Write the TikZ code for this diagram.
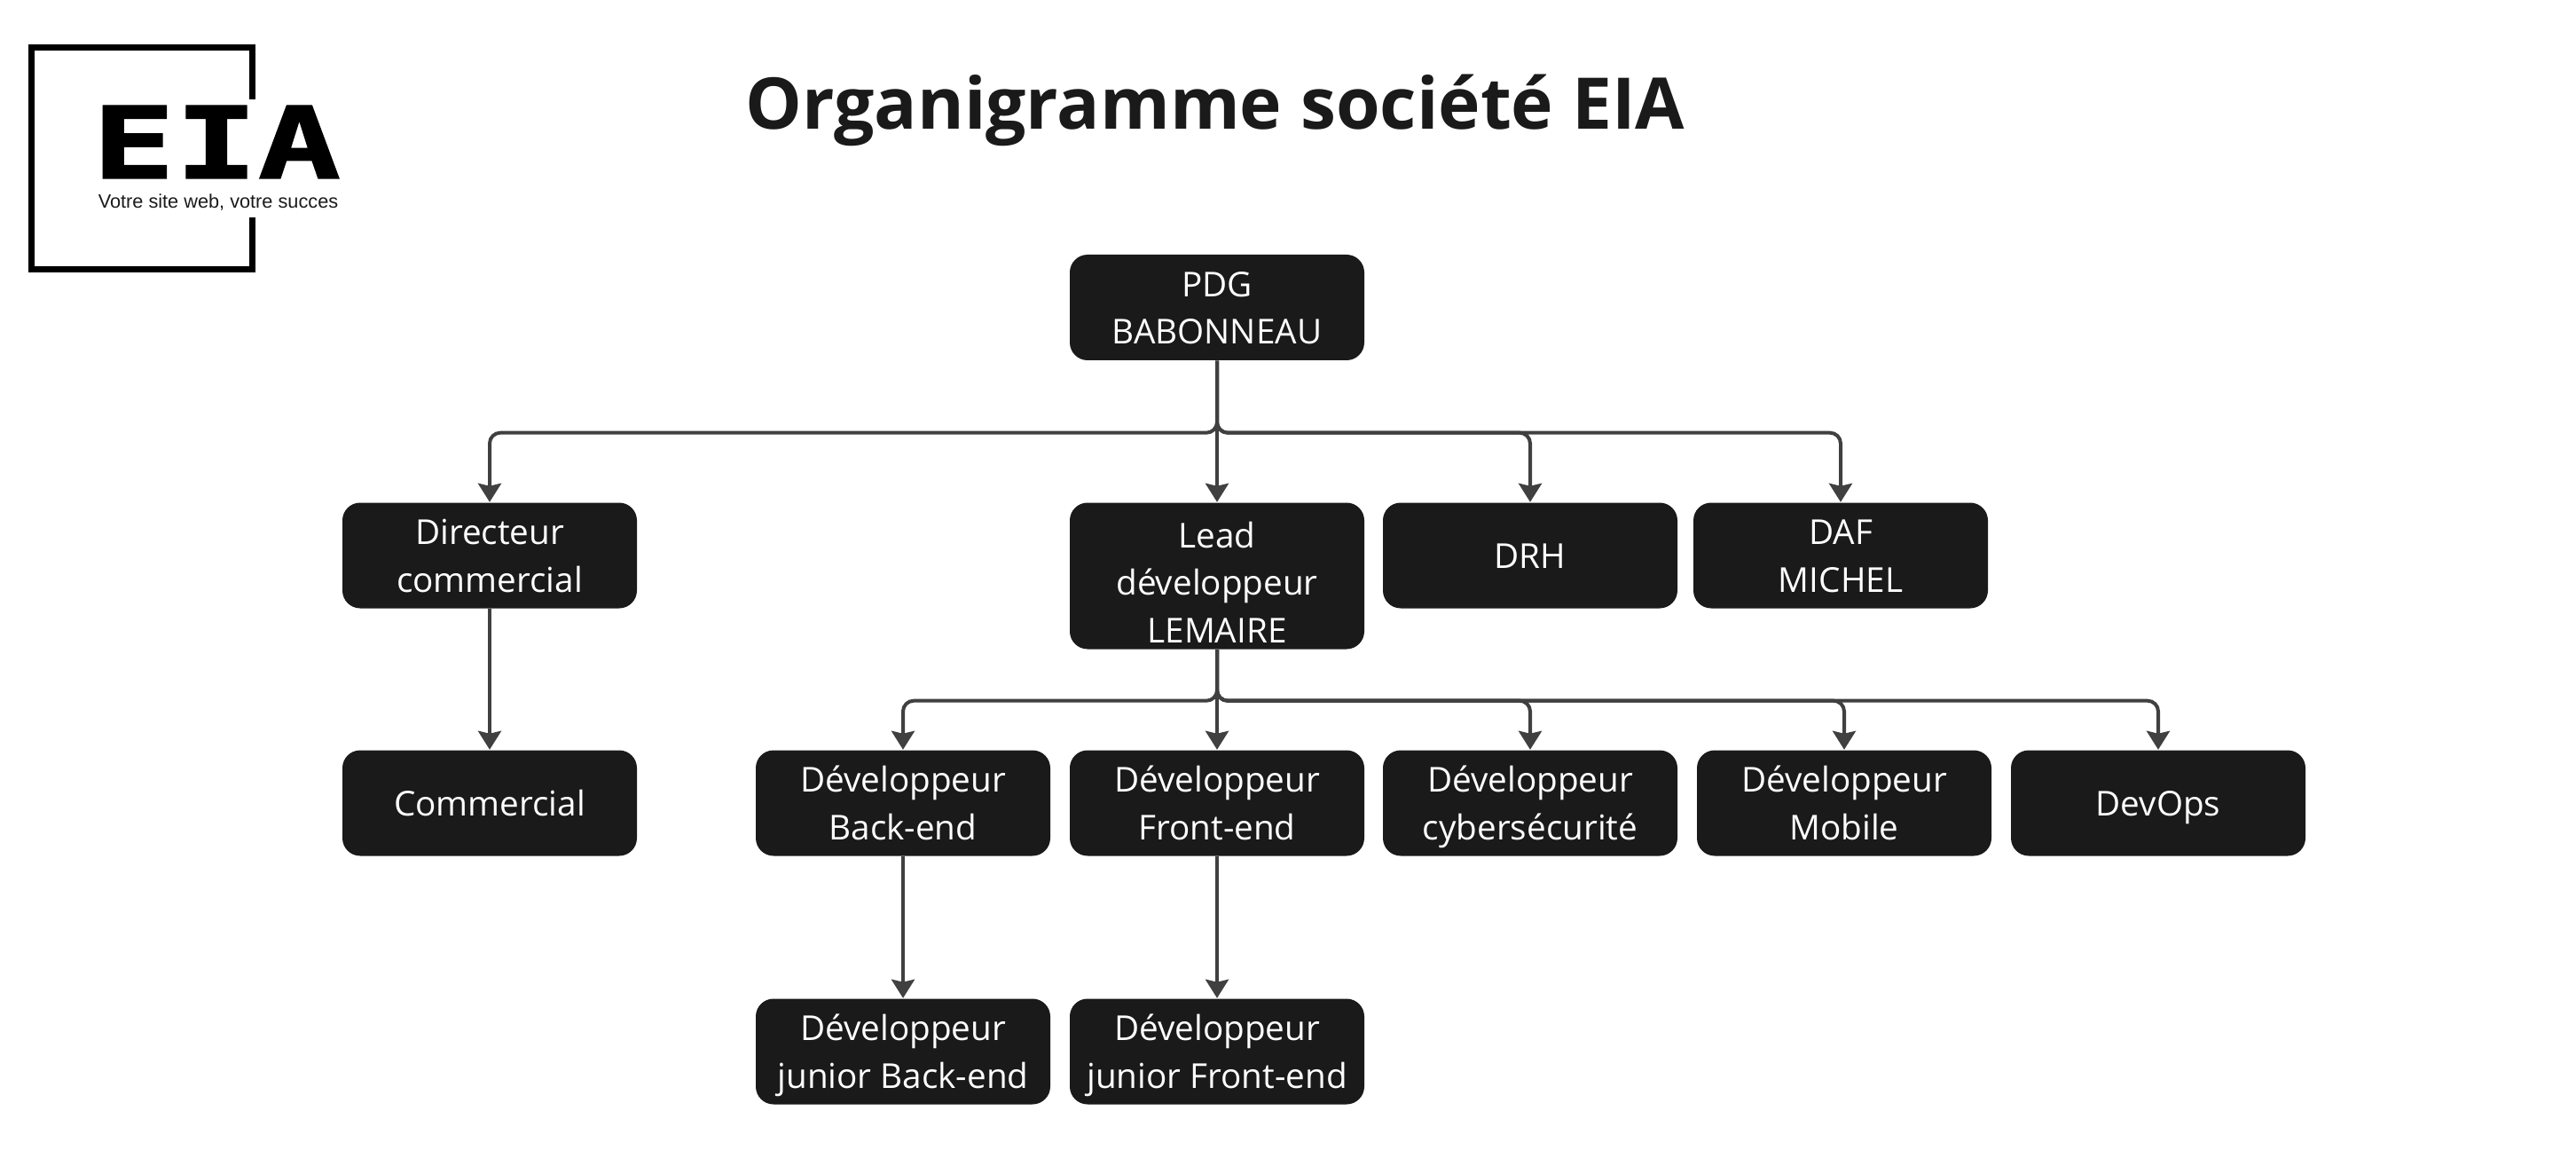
\documentclass[tikz,border=0pt]{standalone}
\usepackage{fontspec}
\setmainfont{Open Sans}
\newfontfamily\logofont{DejaVu Sans Mono}[BoldFont={* Bold},BoldFeatures={FakeBold=1.3}]
\newfontfamily\tagfont{Liberation Sans}
\usetikzlibrary{arrows.meta}
\definecolor{boxfill}{HTML}{1A1A1A}
\definecolor{linkgray}{HTML}{404040}
\tikzset{
	orgbox/.style={fill=boxfill, text=white, rounded corners=0.2cm, minimum width=3.32cm, minimum height=1.19cm, inner sep=0pt, align=center, font=\fontsize{11}{15.3}\selectfont, text depth=0pt, text height=23.6pt},
	oneline/.style={orgbox, text height=8.2pt},
	threeline/.style={orgbox, minimum height=1.65cm, text height=43pt},
	link/.style={draw=linkgray, line width=0.04cm, rounded corners=0.12cm, -{Stealth[length=0.21cm,width=0.26cm,inset=0.03cm]}},
	logoline/.style={line width=0.07cm, line cap=butt, miter limit=10}
}
\begin{document}
\begin{tikzpicture}
			\useasboundingbox (0,0) rectangle (29.04,-13.14);
			% Logo frame, open on the right
			\draw[logoline] (2.845,-1.12) -- (2.845,-0.535) -- (0.355,-0.535) -- (0.355,-3.035) -- (2.845,-3.035) -- (2.845,-2.45);
			\node[inner sep=0pt] (logoname) at (2.44,-1.6) {\scalebox{1.38}[1]{\logofont\bfseries\fontsize{32}{32}\selectfont EIA}};
			\node[inner sep=0pt, text=boxfill] (logotag) at (2.46,-2.28) {\tagfont\fontsize{6.18}{7}\selectfont Votre site web, votre succes};
			% Title
			\node[inner sep=0pt, text=boxfill] (title) at (13.70,-1.24) {\fontsize{22.85}{27}\selectfont\bfseries Organigramme société EIA};
			% Top of the chart
			\node[orgbox] (pdg) at (13.72,-3.465) {PDG\\BABONNEAU};
			\node[threeline] (lead) at (13.72,-6.49) {Lead\\développeur\\LEMAIRE};
			% Second row, beside the lead
			\foreach \name/\x/\label in {dir/5.52/{Directeur\\commercial}, daf/20.75/{DAF\\MICHEL}} {
				\node[orgbox] (\name) at (\x,-6.26) {\label};
			}
			\node[oneline] (drh) at (17.25,-6.26) {DRH};
			% Third row
			\foreach \name/\x/\label in {back/10.18/{Développeur\\Back-end}, front/13.72/{Développeur\\Front-end}, cyber/17.25/{Développeur\\cybersécurité}, mobile/20.79/{Développeur\\Mobile}} {
				\node[orgbox] (\name) at (\x,-9.05) {\label};
			}
			\node[oneline] (com) at (5.52,-9.05) {Commercial};
			\node[oneline] (devops) at (24.33,-9.05) {DevOps};
			% Juniors
			\node[orgbox] (jback) at (10.18,-11.85) {Développeur\\junior Back-end};
			\node[orgbox] (jfront) at (13.72,-11.85) {Développeur\\junior Front-end};
			% Links from the PDG
			\draw[link] (pdg.south) -- (lead.north);
			\foreach \target in {dir, drh, daf} {
				\draw[link] (pdg.south) -- ++(0,-0.81) -| (\target.north);
			}
			% Links from the lead
			\draw[link] (lead.south) -- (front.north);
			\foreach \target in {back, cyber, mobile, devops} {
				\draw[link] (lead.south) -- ++(0,-0.575) -| (\target.north);
			}
			% Straight links
			\draw[link] (dir.south) -- (com.north);
			\draw[link] (back.south) -- (jback.north);
			\draw[link] (front.south) -- (jfront.north);
		\end{tikzpicture}
\end{document}
